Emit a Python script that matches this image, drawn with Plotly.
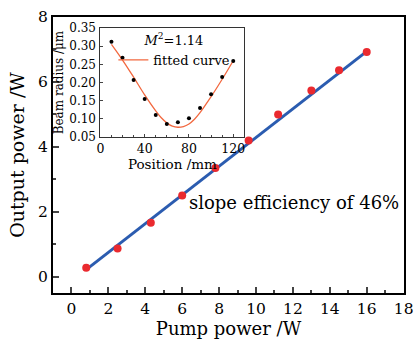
import plotly.graph_objects as go

# Main chart data
pump_power = [0.8, 2.5, 4.3, 6.0, 7.8, 9.6, 11.2, 13.0, 14.5, 16.0]
output_power = [0.28, 0.87, 1.66, 2.50, 3.35, 4.20, 5.00, 5.74, 6.36, 6.92]
fit_x = [0.8, 16.0]
fit_y = [0.22, 6.94]

# Inset data
position = [10, 20, 30, 40, 50, 60, 70, 80, 90, 100, 110, 120]
beam_radius = [0.312, 0.268, 0.207, 0.155, 0.111, 0.086, 0.091, 0.102, 0.130, 0.168, 0.215, 0.259]
curve_x = [10, 20, 30, 40, 50, 55, 60, 65, 70, 75, 80, 85, 90, 100, 110, 120]
curve_y = [0.305, 0.262, 0.215, 0.166, 0.122, 0.103, 0.089, 0.080, 0.077, 0.079,
           0.086, 0.099, 0.117, 0.161, 0.209, 0.260]

FONT = "DejaVu Serif"

fig = go.Figure()
fig.add_trace(go.Scatter(x=fit_x, y=fit_y, mode="lines",
                         line=dict(color="#2b5cb0", width=3), showlegend=False))
fig.add_trace(go.Scatter(x=pump_power, y=output_power, mode="markers",
                         marker=dict(color="#ea2a2f", size=8), showlegend=False))
fig.add_trace(go.Scatter(x=curve_x, y=curve_y, mode="lines", name="fitted curve",
                         line=dict(color="#f2683f", width=1.3, shape="spline"),
                         xaxis="x2", yaxis="y2", showlegend=True))
fig.add_trace(go.Scatter(x=position, y=beam_radius, mode="markers",
                         marker=dict(color="black", size=4), xaxis="x2", yaxis="y2",
                         showlegend=False))

fig.add_annotation(x=12.07, y=2.3, xref="x", yref="y", text="slope efficiency of 46%",
                   showarrow=False, font=dict(family=FONT, size=18, color="black"))

fig.update_layout(
    width=414, height=340,
    margin=dict(l=53, r=10, t=17, b=47, autoexpand=False),
    paper_bgcolor="white", plot_bgcolor="white",
    font=dict(family=FONT, color="black"),
    xaxis=dict(range=[-1, 18.02], tick0=0, dtick=2, ticks="inside", ticklen=6, tickwidth=2,
               linewidth=2, linecolor="black", mirror=True, showgrid=False, zeroline=False,
               automargin=False, ticklabeloverflow="allow",
               minor=dict(ticks="inside", dtick=1, ticklen=3, tickwidth=2),
               tickfont=dict(size=15.5), title=dict(text="Pump power /W", font=dict(size=18), standoff=6)),
    yaxis=dict(range=[-0.5, 8], tick0=0, dtick=2, ticks="inside", ticklen=6, tickwidth=2,
               linewidth=2, linecolor="black", mirror=True, showgrid=False, zeroline=False,
               automargin=False, ticklabeloverflow="allow",
               minor=dict(ticks="inside", dtick=1, ticklen=3, tickwidth=2),
               tickfont=dict(size=15.5), title=dict(text="Output power /W", font=dict(size=19), standoff=8)),
    xaxis2=dict(domain=[0.135, 0.545], anchor="y2", range=[0, 130], tick0=0, dtick=40,
                ticks="inside", ticklen=3, tickwidth=1, linewidth=1, linecolor="#333",
                mirror=True, showgrid=False, zeroline=False, automargin=False,
                minor=dict(ticks="inside", dtick=10, ticklen=2, tickwidth=1),
                tickfont=dict(size=12.5),
                title=dict(text="Position /mm", font=dict(size=13.5), standoff=3)),
    yaxis2=dict(domain=[0.565, 0.960], anchor="x2", range=[0.05, 0.35], tick0=0.05, dtick=0.05,
                tickformat=".2f", ticks="inside", ticklen=3, tickwidth=1, linewidth=1,
                linecolor="#333", mirror=True, showgrid=False, zeroline=False, automargin=False,
                tickfont=dict(size=12), ticklabelstandoff=1,
                title=dict(text="Beam radius /μm", font=dict(size=12), standoff=3)),
    legend=dict(x=0.172, y=0.96, xanchor="left", yanchor="top", bgcolor="rgba(0,0,0,0)",
                font=dict(size=13), tracegroupgap=0,
                title=dict(text="<i>M</i><sup>2</sup>=1.14", side="top center",
                           font=dict(size=13))),
)

fig.write_html("out.html")
